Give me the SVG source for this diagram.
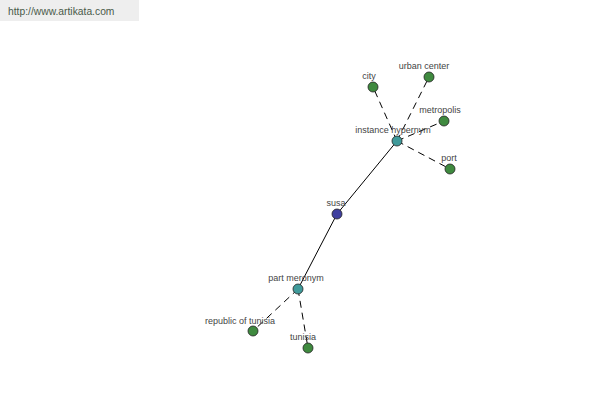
<svg xmlns="http://www.w3.org/2000/svg" width="600" height="400" viewBox="0 0 600 400">
<style>
text{font-family:"Liberation Sans",Arial,sans-serif;font-size:9px;fill:#444;text-anchor:middle}
.e{stroke:#000;stroke-width:1;fill:none}
.d{stroke-dasharray:7,5}
.n{stroke:#222;stroke-width:0.8}
.g{fill:#3f8a3f}
.t{fill:#3f9a9a}
.b{fill:#3f3f9f}
</style>
<rect x="0" y="0" width="600" height="400" fill="#fff"/>
<rect x="0" y="0" width="139" height="21" fill="#eeeeee"/>
<text x="8" y="15" style="font-size:10.3px;fill:#4a5a4a;text-anchor:start">http://www.artikata.com</text>
<g id="connectors">
<line class="e" x1="337" y1="214" x2="397" y2="141"/>
<line class="e" x1="337" y1="214" x2="298" y2="289"/>
<line class="e d" x1="397" y1="141" x2="373" y2="87"/>
<line class="e d" x1="397" y1="141" x2="429" y2="77"/>
<line class="e d" x1="397" y1="141" x2="444" y2="121"/>
<line class="e d" x1="397" y1="141" x2="450" y2="169"/>
<line class="e d" x1="298" y1="289" x2="253" y2="331"/>
<line class="e d" x1="298" y1="289" x2="308" y2="348"/>
</g>
<g id="susa"><circle class="n b" cx="337" cy="214" r="5"/><text x="336" y="206">susa</text></g>
<g id="instance-hypernym"><circle class="n t" cx="397" cy="141" r="5"/><text x="393" y="133">instance hypernym</text></g>
<g id="part-meronym"><circle class="n t" cx="298" cy="289" r="5"/><text x="296" y="281">part meronym</text></g>
<g id="city"><circle class="n g" cx="373" cy="87" r="5"/><text x="369" y="79">city</text></g>
<g id="urban-center"><circle class="n g" cx="429" cy="77" r="5"/><text x="424" y="69">urban center</text></g>
<g id="metropolis"><circle class="n g" cx="444" cy="121" r="5"/><text x="440" y="113">metropolis</text></g>
<g id="port"><circle class="n g" cx="450" cy="169" r="5"/><text x="449" y="161">port</text></g>
<g id="republic-of-tunisia"><circle class="n g" cx="253" cy="331" r="5"/><text x="240" y="324">republic of tunisia</text></g>
<g id="tunisia"><circle class="n g" cx="308" cy="348" r="5"/><text x="303" y="340">tunisia</text></g>
</svg>
